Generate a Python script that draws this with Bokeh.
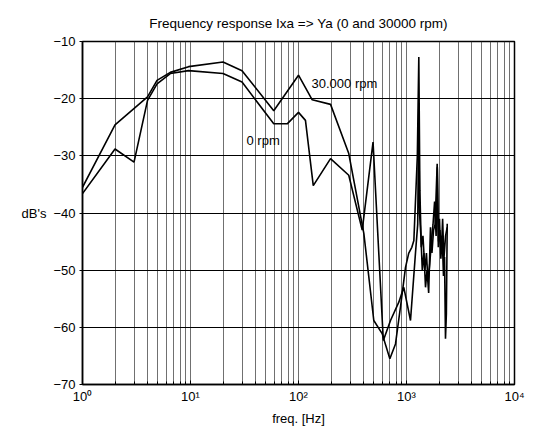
from bokeh.plotting import figure
from bokeh.models import FixedTicker, Label, Range1d
from bokeh.embed import file_html
from bokeh.resources import INLINE

# ---- data ----
freq_30k = [1, 2, 4, 4.9, 6.5, 9.6, 20, 30, 59, 100, 134, 198, 292, 403, 498, 595, 701, 791,
            880, 979, 1050, 1120, 1170, 1260, 1300, 1330, 1370, 1420, 1480, 1530, 1580, 1640,
            1700, 1760, 1820, 1880, 1930, 1980, 2040, 2100, 2160, 2220, 2300, 2380]
db_30k = [-35.5, -24.6, -19.7, -16.8, -15.4, -14.4, -13.6, -15.1, -22.1, -15.9, -20.2, -21.0,
          -29.6, -43.6, -58.8, -61.1, -65.5, -62.9, -56.4, -49.5, -47.0, -46.0, -44.8, -30.0,
          -12.7, -36.0, -46.0, -44.0, -50.0, -47.0, -52.0, -49.0, -45.0, -42.0, -38.0, -44.0,
          -32.0, -45.0, -43.0, -47.0, -41.0, -48.0, -44.0, -42.5]

freq_0 = [1, 2, 3, 4, 4.9, 6.5, 9.6, 20, 30, 59, 78.6, 100, 116, 137, 198, 292, 389, 490, 610,
          711, 849, 944, 1089, 1211, 1270, 1300, 1320, 1360, 1400, 1450, 1500, 1550, 1604, 1667,
          1720, 1780, 1840, 1923, 1970, 2020, 2080, 2140, 2200, 2250, 2296, 2340, 2383]
db_0 = [-36.6, -28.8, -31.1, -20.3, -17.4, -15.6, -15.1, -15.6, -17.1, -24.4, -24.4, -22.4,
        -23.8, -35.2, -30.5, -33.4, -43.0, -27.6, -62.3, -58.8, -55.6, -53.0, -58.8, -47.0,
        -42.0, -21.0, -40.0, -44.0, -50.0, -47.0, -53.0, -50.0, -54.0, -42.5, -47.0, -43.0,
        -42.0, -31.4, -46.0, -41.0, -48.0, -44.0, -51.0, -47.7, -62.0, -57.6, -41.9]

x_major = [1, 10, 100, 1000, 10000]
x_labels = ["10\u2070", "10\u00b9", "10\u00b2", "10\u00b3", "10\u2074"]
y_ticks = [-70, -60, -50, -40, -30, -20, -10]

FONT = "Liberation Sans"

x_minor = [m * 10 ** k for k in range(4) for m in range(2, 10)]

p = figure(width=558, height=430, x_axis_type="log",
           x_range=Range1d(1, 10000), y_range=Range1d(-70, -10),
           output_backend="svg", toolbar_location=None,
           min_border_left=82, min_border_right=44, min_border_top=41, min_border_bottom=46,
           title="Frequency response Ixa => Ya (0 and 30000 rpm)")

p.title.align = "center"
p.title.text_font = FONT
p.title.text_font_size = "13.5px"
p.title.text_font_style = "normal"
p.title.text_color = "black"
p.title.offset = 0
p.title.standoff = 21

p.background_fill_color = "white"
p.border_fill_color = "white"
p.outline_line_color = "black"
p.outline_line_width = 1.5
p.outline_line_alpha = 1

# x axis
p.xaxis.ticker = FixedTicker(ticks=x_major, minor_ticks=x_minor)
p.xaxis.major_label_overrides = {t: lab for t, lab in zip(x_major, x_labels)}
p.xaxis.axis_label = "freq. [Hz]"
p.xaxis.major_tick_in = 4
p.xaxis.major_tick_out = 0
p.xaxis.minor_tick_in = 3
p.xaxis.minor_tick_out = 0

# y axis
p.yaxis.ticker = FixedTicker(ticks=y_ticks)
p.yaxis.axis_label = "dB's"
p.yaxis.axis_label_orientation = "horizontal"
p.yaxis.major_tick_in = 0
p.yaxis.major_tick_out = 3

for ax in (p.xaxis, p.yaxis):
    ax.axis_line_color = "black"
    ax.axis_line_width = 1.5
    ax.major_tick_line_color = "black"
    ax.minor_tick_line_color = "black"
    ax.major_label_text_font = FONT
    ax.major_label_text_font_size = "13px"
    ax.major_label_text_color = "black"
    ax.axis_label_text_font = FONT
    ax.axis_label_text_font_size = "13px"
    ax.axis_label_text_font_style = "normal"
    ax.axis_label_text_color = "black"
    ax.major_label_standoff = 4
    ax.axis_label_standoff = 4
p.yaxis.minor_tick_line_color = None

# grids
p.xgrid.ticker = FixedTicker(ticks=x_major + x_minor)
p.xgrid.grid_line_color = "#333333"
p.xgrid.grid_line_width = 1
p.xgrid.grid_line_alpha = 0.7
p.ygrid.ticker = FixedTicker(ticks=y_ticks)
p.ygrid.grid_line_color = "black"
p.ygrid.grid_line_width = 1.2
p.ygrid.grid_line_alpha = 1

# curves
p.line(freq_30k, db_30k, line_color="black", line_width=1.6)
p.line(freq_0, db_0, line_color="black", line_width=1.6)

p.add_layout(Label(x=132, y=-17.4, text="30.000 rpm", text_font=FONT, text_font_size="13px",
                   text_color="black", text_baseline="middle", text_align="left"))
p.add_layout(Label(x=33, y=-27.4, text="0 rpm", text_font=FONT, text_font_size="13px",
                   text_color="black", text_baseline="middle", text_align="left"))

open("out.html", "w").write(file_html(p, INLINE))
